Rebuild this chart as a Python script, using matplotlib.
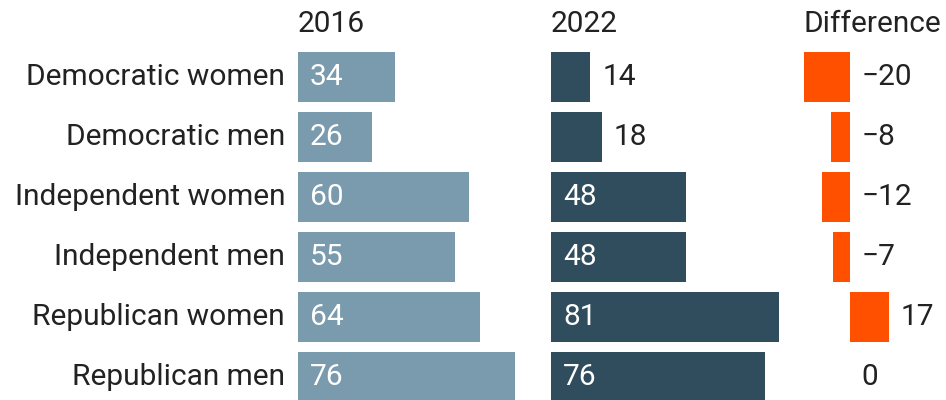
import matplotlib
matplotlib.use("Agg")
import matplotlib.pyplot as plt

categories = ["Democratic women", "Democratic men", "Independent women",
              "Independent men", "Republican women", "Republican men"]
values_2016 = [34, 26, 60, 55, 64, 76]
values_2022 = [14, 18, 48, 48, 81, 76]
difference = [-20, -8, -12, -7, 17, 0]

plt.rcParams['font.family'] = ['Roboto', 'DejaVu Sans']
W, H = 946, 400
FS = 21.5
TXT = "#222222"
C16 = "#7a9aae"
C22 = "#304d5e"
CDF = "#ff5000"

fig = plt.figure(figsize=(W / 100, H / 100), dpi=100)

row0 = 77.0
step = 60.0
ylo = -row0 / step
yhi = (H - row0) / step
bar_h = 50 / step


def make_axes(left_px, zero_px, scale, right_px):
    ax = fig.add_axes([left_px / W, 0, (right_px - left_px) / W, 1])
    ax.set_xlim((left_px - zero_px) / scale, (right_px - zero_px) / scale)
    ax.set_ylim(yhi, ylo)
    ax.axis("off")
    return ax


ys = list(range(len(categories)))

# 2016 panel
ax1 = make_axes(298, 298, 2.85, 540)
ax1.barh(ys, values_2016, height=bar_h, color=C16)
for y, v in zip(ys, values_2016):
    ax1.annotate(str(v), (0, y), xytext=(12, 0), textcoords="offset pixels",
                 ha="left", va="center", color="white", fontsize=FS)
for y, c in zip(ys, categories):
    ax1.annotate(c, (0, y), xytext=(-13, 0), textcoords="offset pixels",
                 ha="right", va="center", color=TXT, fontsize=FS,
                 annotation_clip=False)
fig.text(298 / W, 1 - 32 / H, "2016", ha="left", va="baseline",
         color=TXT, fontsize=FS)

# 2022 panel
ax2 = make_axes(551, 551, 2.81, 790)
ax2.barh(ys, values_2022, height=bar_h, color=C22)
for y, v in zip(ys, values_2022):
    if v >= 25:
        ax2.annotate(str(v), (0, y), xytext=(12, 0), textcoords="offset pixels",
                     ha="left", va="center", color="white", fontsize=FS)
    else:
        ax2.annotate(str(v), (v, y), xytext=(12, 0), textcoords="offset pixels",
                     ha="left", va="center", color=TXT, fontsize=FS)
fig.text(551 / W, 1 - 32 / H, "2022", ha="left", va="baseline",
         color=TXT, fontsize=FS)

# Difference panel
ax3 = make_axes(790, 849.5, 2.3, W)
ax3.barh(ys, difference, height=bar_h, color=CDF)
for y, v in zip(ys, difference):
    label = str(v).replace("-", "\u2212")
    ax3.annotate(label, (max(v, 0), y), xytext=(12, 0), textcoords="offset pixels",
                 ha="left", va="center", color=TXT, fontsize=FS)
fig.text(803 / W, 1 - 32 / H, "Difference", ha="left", va="baseline",
         color=TXT, fontsize=FS)

fig.savefig("out.png", dpi=100, facecolor="white")
